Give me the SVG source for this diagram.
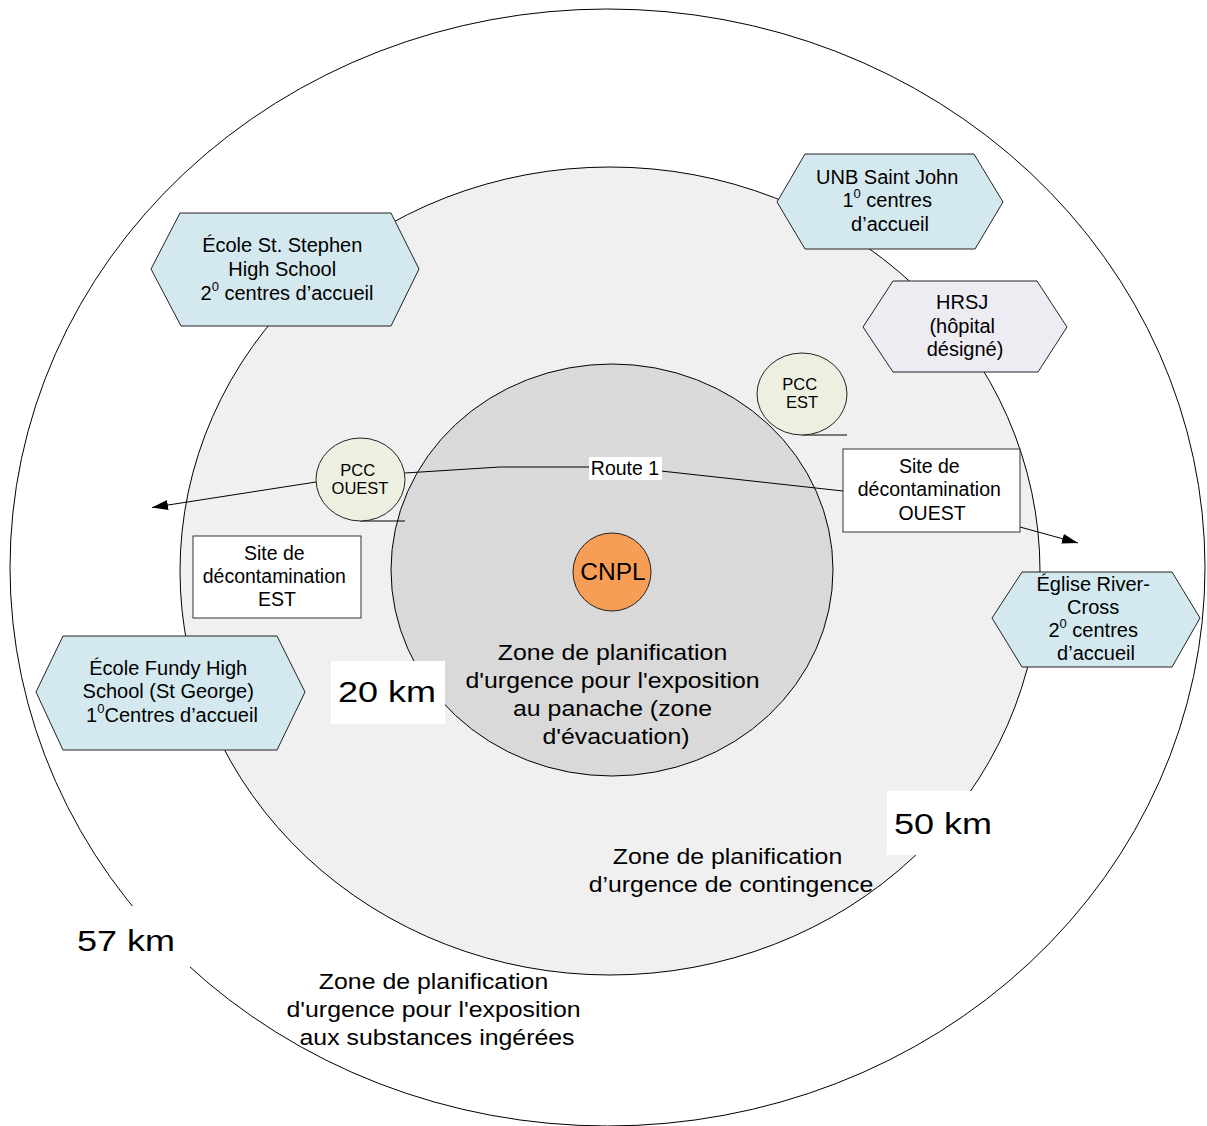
<svg xmlns="http://www.w3.org/2000/svg" width="1207" height="1126" viewBox="0 0 1207 1126">
  <style>
    text { font-family: "Liberation Sans", Arial, sans-serif; fill: #000; text-anchor: middle; }
    .zone { font-size: 22px; }
    .km { font-size: 30px; }
    .hex { font-size: 20px; }
    .box { font-size: 19.5px; }
    .pcc { font-size: 16.5px; }
    .sup { font-size: 13px; }
    .edge { fill: none; stroke: #000; stroke-width: 1; }
    .ring { stroke: #000; stroke-width: 1; }
    .hexblue { fill: #D3E9EF; stroke: #222; stroke-width: 1; }
    .hexlav { fill: #EEECF3; stroke: #222; stroke-width: 1; }
    .pccfill { fill: #EDF0E0; stroke: #222; stroke-width: 1; }
    .rect { fill: #fff; stroke: #333; stroke-width: 1; }
    .mask { fill: #fff; stroke: none; }
  </style>
  <defs>
    <marker id="arrow" viewBox="0 0 16 10" refX="16" refY="5" markerWidth="16" markerHeight="10" markerUnits="userSpaceOnUse" orient="auto">
      <path d="M0,0 L16,5 L0,10 Z" fill="#000"/>
    </marker>
  </defs>

  <rect width="1207" height="1126" fill="#fff"/>

  <!-- planning zones -->
  <g id="zones">
    <ellipse id="zone-57" class="ring" cx="607.5" cy="567.5" rx="597.5" ry="558.5" fill="#fff"/>
    <ellipse id="zone-50" class="ring" cx="610" cy="571" rx="430" ry="404" fill="#F0F0F0"/>
    <ellipse id="zone-20" class="ring" cx="612" cy="570" rx="221" ry="206" fill="#D9D9D9"/>
  </g>

  <!-- zone labels -->
  <g id="zone-labels">
    <text class="zone" transform="translate(616,0) scale(1.13,1)">
      <tspan x="0" y="660">Zone de planification</tspan>
      <tspan x="0" y="688">d'urgence pour l'exposition</tspan>
      <tspan x="0" y="716">au panache (zone</tspan>
      <tspan x="0" y="744">d'évacuation)</tspan>
    </text>
    <text class="zone" transform="translate(731,0) scale(1.13,1)">
      <tspan x="0" y="864">Zone de planification</tspan>
      <tspan x="0" y="892">d’urgence de contingence</tspan>
    </text>
    <text class="zone" transform="translate(437,0) scale(1.13,1)">
      <tspan x="0" y="989">Zone de planification</tspan>
      <tspan x="0" y="1017">d'urgence pour l'exposition</tspan>
      <tspan x="0" y="1045">aux substances ingérées</tspan>
    </text>
  </g>

  <!-- radius labels -->
  <g id="km-20">
    <rect class="mask" x="331" y="661" width="114" height="63"/>
    <text class="km" transform="translate(387,702) scale(1.2,1)">20 km</text>
  </g>
  <g id="km-50">
    <rect class="mask" x="887" y="791" width="113" height="64"/>
    <text class="km" transform="translate(943,834) scale(1.2,1)">50 km</text>
  </g>
  <g id="km-57">
    <rect class="mask" x="68" y="906" width="122" height="61"/>
    <text class="km" transform="translate(126,951) scale(1.2,1)">57 km</text>
  </g>

  <!-- connectors -->
  <g id="connectors">
    <path class="edge" d="M316,482 L152,507.5" marker-end="url(#arrow)"/>
    <path class="edge" d="M405,473 L500,467 L589,467"/>
    <path class="edge" d="M661,471 L843,491"/>
    <path class="edge" d="M1020,527 L1078,543" marker-end="url(#arrow)"/>
    <line class="edge" x1="360" y1="521" x2="405" y2="521"/>
    <line class="edge" x1="802" y1="435" x2="847" y2="435"/>
  </g>

  <g id="route-label">
    <rect class="mask" x="589" y="457" width="73" height="23"/>
    <text class="box" x="625" y="475">Route 1</text>
  </g>

  <!-- plant -->
  <g id="cnpl">
    <circle cx="612" cy="572" r="39" fill="#F69D56" stroke="#222" stroke-width="1"/>
    <text x="613" y="580" font-size="24.5">CNPL</text>
  </g>

  <!-- reception centres and hospital -->
  <g id="ecole-st-stephen">
    <polygon class="hexblue" points="151,269 180,213 391,213 419,269 391,326 181,326"/>
    <text class="hex">
      <tspan x="285" y="252">École St. Stephen</tspan>
      <tspan x="285" y="276">High School</tspan>
      <tspan x="287" y="300">2<tspan class="sup" dy="-9">0</tspan><tspan dy="9"> centres d’accueil</tspan></tspan>
    </text>
  </g>

  <g id="unb-saint-john">
    <polygon class="hexblue" points="777,202 805,154 974,154 1003,202 975,249 805,249"/>
    <text class="hex">
      <tspan x="890" y="184">UNB Saint John</tspan>
      <tspan x="890" y="207">1<tspan class="sup" dy="-9">0</tspan><tspan dy="9"> centres</tspan></tspan>
      <tspan x="890" y="231">d’accueil</tspan>
    </text>
  </g>

  <g id="hrsj">
    <polygon class="hexlav" points="863,327 893,281 1037,281 1067,327 1038,372 893,372"/>
    <text class="hex">
      <tspan x="965" y="309">HRSJ</tspan>
      <tspan x="965" y="333">(hôpital</tspan>
      <tspan x="965" y="356">désigné)</tspan>
    </text>
  </g>

  <g id="eglise-river-cross">
    <polygon class="hexblue" points="992,618 1022,572 1172,572 1200,618 1172,667 1022,667"/>
    <text class="hex">
      <tspan x="1096" y="591">Église River-</tspan>
      <tspan x="1096" y="614">Cross</tspan>
      <tspan x="1096" y="637">2<tspan class="sup" dy="-9">0</tspan><tspan dy="9"> centres</tspan></tspan>
      <tspan x="1096" y="660">d’accueil</tspan>
    </text>
  </g>

  <g id="ecole-fundy">
    <polygon class="hexblue" points="36,692 63,636 277,636 305,692 277,750 63,750"/>
    <text class="hex">
      <tspan x="171" y="675">École Fundy High</tspan>
      <tspan x="171" y="698">School (St George)</tspan>
      <tspan x="172" y="722">1<tspan class="sup" dy="-9">0</tspan><tspan dy="9">Centres d’accueil</tspan></tspan>
    </text>
  </g>

  <!-- command posts -->
  <g id="pcc-ouest">
    <ellipse class="pccfill" cx="360.5" cy="479.5" rx="44.5" ry="41.5"/>
    <text class="pcc">
      <tspan x="360" y="476">PCC</tspan>
      <tspan x="360" y="494">OUEST</tspan>
    </text>
  </g>

  <g id="pcc-est">
    <ellipse class="pccfill" cx="802" cy="394" rx="45" ry="41"/>
    <text class="pcc">
      <tspan x="802" y="390">PCC</tspan>
      <tspan x="802" y="408">EST</tspan>
    </text>
  </g>

  <!-- decontamination sites -->
  <g id="site-est">
    <rect class="rect" x="193" y="536" width="168" height="82"/>
    <text class="box">
      <tspan x="277" y="560">Site de</tspan>
      <tspan x="277" y="583">décontamination</tspan>
      <tspan x="277" y="606">EST</tspan>
    </text>
  </g>

  <g id="site-ouest">
    <rect class="rect" x="843" y="449" width="177" height="83"/>
    <text class="box">
      <tspan x="932" y="473">Site de</tspan>
      <tspan x="932" y="496">décontamination</tspan>
      <tspan x="932" y="520">OUEST</tspan>
    </text>
  </g>
</svg>
